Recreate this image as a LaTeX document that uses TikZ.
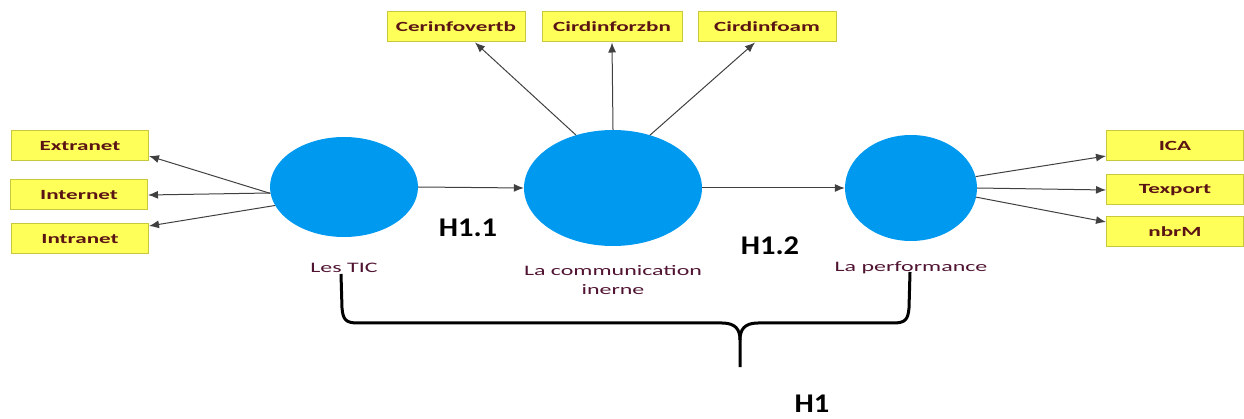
\documentclass[tikz,border=0pt]{standalone}
\usepackage{fontspec}
\setmainfont{Carlito}
\newfontfamily\widefont{Carlito}[FakeStretch=1.65]
\newfontfamily\hfont{Carlito}[FakeStretch=1.13]
\usetikzlibrary{arrows.meta,shapes.geometric}
\definecolor{boxfill}{RGB}{255,255,90}
\definecolor{boxdraw}{RGB}{200,200,60}
\definecolor{lv}{RGB}{0,153,240}
\definecolor{txt}{RGB}{90,20,20}
\definecolor{lab}{RGB}{80,20,50}
\begin{document}
\begin{tikzpicture}[x=1pt,y=-1pt,
  ind/.style={draw=boxdraw,fill=boxfill,line width=1pt,minimum width=137pt,minimum height=30pt,inner sep=0pt,font=\widefont\fontsize{14}{16}\selectfont\bfseries,text=txt},
  lvar/.style={ellipse,fill=lv,inner sep=0pt},
  lbl/.style={font=\widefont\fontsize{14.5}{19}\selectfont,text=lab,align=center},
  hyp/.style={font=\hfont\fontsize{27}{30}\selectfont\bfseries,text=black},
  arr/.style={-{Latex[length=10pt,width=8pt]},line width=1pt,draw=black!75}]
\useasboundingbox (0,0) rectangle (1244,419);
% indicators
\node[ind] (ext) at (80,146) {Extranet};
\node[ind] (int) at (79,195) {Internet};
\node[ind] (intr) at (80,239) {Intranet};
\node[ind,minimum width=138pt] (cer) at (456,27) {Cerinfovertb};
\node[ind,minimum width=140pt] (cirz) at (612,27) {Cirdinforzbn};
\node[ind,minimum width=138pt] (cira) at (767,27) {Cirdinfoam};
\node[ind] (ica) at (1175,146) {ICA};
\node[ind] (tex) at (1175,190) {Texport};
\node[ind] (nbr) at (1175,232) {nbrM};
% latent variables
\node[lvar,minimum width=148pt,minimum height=100pt] (tic) at (344,187) {};
\node[lvar,minimum width=178pt,minimum height=116pt] (com) at (613,188) {};
\node[lvar,minimum width=132pt,minimum height=106pt] (perf) at (911,188) {};
% labels
\node[lbl] (ltic) at (344,268) {Les TIC};
\node[lbl] (lcom) at (613,280) {La communication\\inerne};
\node[lbl] (lperf) at (911,268) {La performance};
\node[hyp] (h11) at (468,228) {H1.1};
\node[hyp] (h12) at (770,246) {H1.2};
\node[hyp] (h1) at (812,404) {H1};
% arrows
\draw[arr] (tic.185) -- (ext.east |- 0,156);
\draw[arr] (tic.west) ++(0,6) -- (int.east);
\draw[arr] (tic.195) -- (intr.east |- 0,226);
\draw[arr] (com.125) -- (cer.south -| 475,0);
\draw[arr] (com.north) -- (cirz.south);
\draw[arr] (com.55) -- (cira.south -| 755,0);
\draw[arr] (perf.10) -- (ica.west |- 0,156);
\draw[arr] (perf.east) -- (tex.west);
\draw[arr] (perf.-8) -- (nbr.west |- 0,222);
\draw[arr] (tic.east) -- (com.west);
\draw[arr] (com.east) -- (perf.west);
% brace
\coordinate (bl) at (341,274);
\coordinate (br) at (910,272);
\coordinate (bm) at (740,367);
\draw[line width=3pt,line join=round]
  (bl) -- (342,308) .. controls (343,320) and (346,323) .. (358,323) -- (722,323)
  .. controls (736,323) and (740,330) .. (740,340) -- (bm);
\draw[line width=3pt,line join=round]
  (br) -- (909,308) .. controls (908,320) and (905,323) .. (893,323) -- (758,323)
  .. controls (744,323) and (740,330) .. (740,340);
\end{tikzpicture}
\end{document}
